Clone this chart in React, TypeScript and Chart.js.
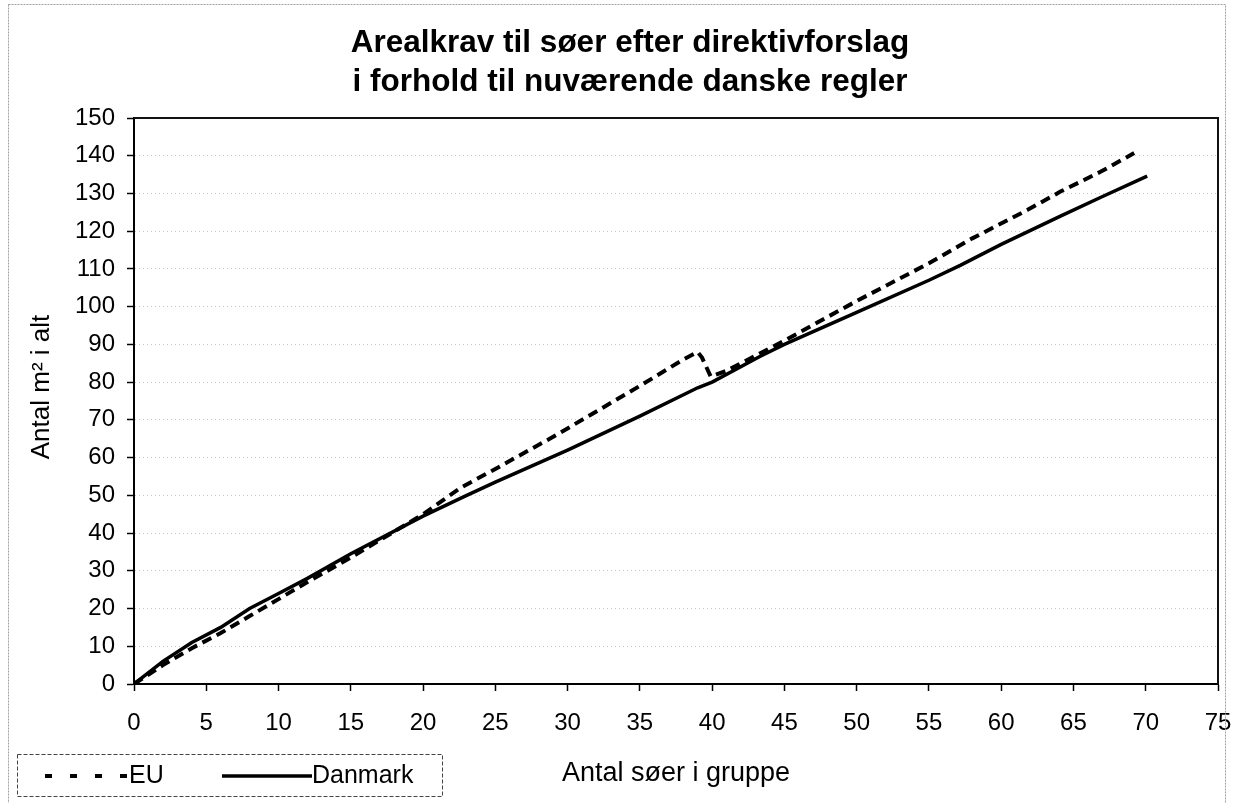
import React, { useEffect, useRef } from "react";
import { Chart, registerables } from "chart.js";

Chart.register(...registerables);

const TITLE_LINES = ["Arealkrav til søer efter direktivforslag", "i forhold til nuværende danske regler"];
const X_TITLE = "Antal søer i gruppe";
const Y_TITLE = "Antal m² i alt";
const SERIES_NAMES = ["EU", "Danmark"];

const EU_X = [0, 2, 4, 6, 8, 10, 12, 15, 20, 22.6, 25, 29, 35, 38, 39, 39.3, 39.9, 41, 43.3, 45, 50, 55, 58, 61.8, 64.1, 66.9, 69.2];
const EU_Y = [0, 5, 9.5, 13.5, 18, 22.5, 27, 33.5, 45, 52, 57, 65.5, 79, 86, 88, 86.5, 81.5, 83, 87.6, 91, 101.5, 111.5, 118.1, 125.6, 130.5, 135.8, 140.7];

const DK_X = [0, 2, 4, 6, 8, 10, 12, 15, 20, 22.8, 25, 30, 32.5, 35, 39, 40, 43.3, 45, 50, 55, 57.2, 60, 64.1, 66.9, 70.1];
const DK_Y = [0, 6, 11, 15, 20, 24, 28, 34.5, 44.5, 49.6, 53.5, 62, 66.5, 71, 78.5, 80, 86.8, 90, 98.5, 107, 111, 116.5, 124, 129, 134.6];

const X_MIN = 0, X_MAX = 75, X_STEP = 5;
const Y_MIN = 0, Y_MAX = 150, Y_STEP = 10;

const FONT = "'Liberation Sans', Arial, sans-serif";

const decorPlugin = {
  id: "decor",
  afterDraw(chart: any) {
    const ctx = chart.ctx as CanvasRenderingContext2D;
    const a = chart.chartArea;
    ctx.save();
    // outer frame
    ctx.strokeStyle = "#a0a0a0";
    ctx.lineWidth = 1;
    ctx.setLineDash([2, 1]);
    ctx.strokeRect(8.5, 4.5, 1217, 800);
    ctx.setLineDash([]);
    // plot top & right border
    ctx.strokeStyle = "#111";
    ctx.lineWidth = 2;
    ctx.beginPath();
    ctx.moveTo(a.left, a.top);
    ctx.lineTo(a.right, a.top);
    ctx.lineTo(a.right, a.bottom);
    ctx.stroke();
    // title
    ctx.fillStyle = "#000";
    ctx.textAlign = "center";
    ctx.textBaseline = "middle";
    ctx.font = `bold 31.5px ${FONT}`;
    ctx.fillText(TITLE_LINES[0], 630, 43);
    ctx.fillText(TITLE_LINES[1], 630, 82);
    // x title
    ctx.font = `27px ${FONT}`;
    ctx.fillText(X_TITLE, 676, 774);
    // y title
    ctx.save();
    ctx.translate(42, 387);
    ctx.rotate(-Math.PI / 2);
    ctx.font = `26px ${FONT}`;
    ctx.fillText(Y_TITLE, 0, 0);
    ctx.restore();
    // legend box
    ctx.strokeStyle = "#444";
    ctx.lineWidth = 1;
    ctx.setLineDash([4, 2]);
    ctx.strokeRect(17.5, 754.5, 425, 42);
    ctx.setLineDash([7, 18]);
    ctx.lineWidth = 4;
    ctx.strokeStyle = "#000";
    ctx.beginPath();
    ctx.moveTo(45, 776);
    ctx.lineTo(128, 776);
    ctx.stroke();
    ctx.setLineDash([]);
    ctx.lineWidth = 3.5;
    ctx.beginPath();
    ctx.moveTo(222, 776);
    ctx.lineTo(312, 776);
    ctx.stroke();
    ctx.font = `25px ${FONT}`;
    ctx.textAlign = "left";
    ctx.fillText(SERIES_NAMES[0], 129, 776);
    ctx.fillText(SERIES_NAMES[1], 312, 776);
    ctx.restore();
  },
};

export default function App() {
  const ref = useRef<HTMLCanvasElement | null>(null);
  useEffect(() => {
    if (!ref.current) return;
    const chart = new Chart(ref.current, {
      type: "line",
      data: {
        datasets: [
          {
            label: SERIES_NAMES[0],
            data: EU_X.map((x, i) => ({ x, y: EU_Y[i] })),
            borderColor: "#000",
            borderWidth: 4,
            borderDash: [10, 6],
            pointRadius: 0,
            tension: 0,
            fill: false,
          },
          {
            label: SERIES_NAMES[1],
            data: DK_X.map((x, i) => ({ x, y: DK_Y[i] })),
            borderColor: "#000",
            borderWidth: 3.5,
            pointRadius: 0,
            tension: 0,
            fill: false,
          },
        ],
      },
      options: {
        responsive: false,
        animation: false,
        devicePixelRatio: 1,
        layout: { padding: { top: 118, right: 15, left: 0, bottom: 0 } },
        plugins: { legend: { display: false }, title: { display: false }, tooltip: { enabled: false } },
        scales: {
          x: {
            type: "linear",
            min: X_MIN,
            max: X_MAX,
            ticks: { stepSize: X_STEP, color: "#000", font: { family: FONT, size: 24 }, padding: 18, maxRotation: 0 },
            grid: { drawOnChartArea: false, drawTicks: true, tickLength: 7, tickColor: "#000", tickWidth: 1.5 },
            border: { display: true, color: "#000", width: 2 },
            afterFit: (s: any) => { s.height = 803 - 684; s.paddingRight = 0; s.paddingLeft = 0; },
          },
          y: {
            type: "linear",
            min: Y_MIN,
            max: Y_MAX,
            ticks: { stepSize: Y_STEP, color: "#000", font: { family: FONT, size: 24 }, padding: 12 },
            grid: { color: "#c8c8c8", lineWidth: 1, tickLength: 7, tickColor: "#000", tickWidth: 1.5, tickBorderDash: [] },
            border: { display: true, color: "#000", width: 2, dash: [1, 3] },
            afterFit: (s: any) => { s.width = 134; s.paddingTop = 0; s.paddingBottom = 0; },
          },
        },
      },
      plugins: [decorPlugin],
    } as any);
    return () => chart.destroy();
  }, []);
  return (
    <div style={{ position: "fixed", left: 0, top: 0, width: 1233, height: 803, background: "#fff" }}>
      <canvas ref={ref} width={1233} height={803} style={{ display: "block" }} />
    </div>
  );
}
